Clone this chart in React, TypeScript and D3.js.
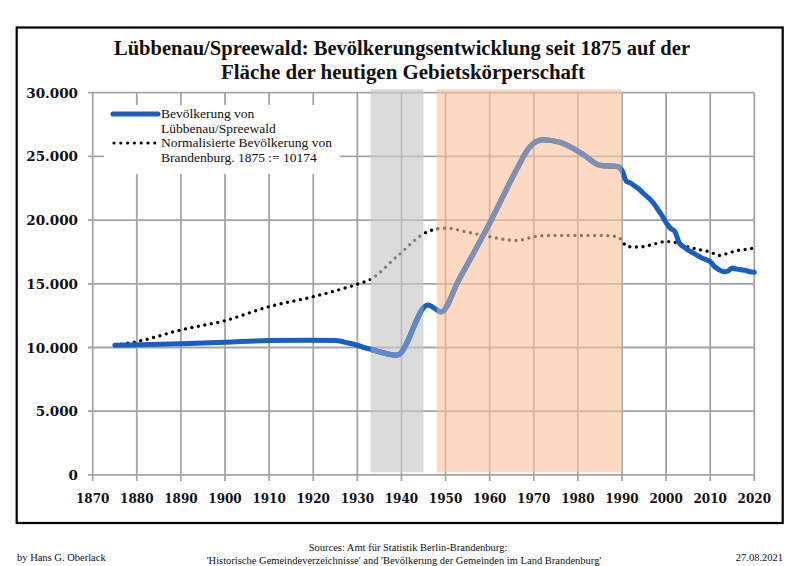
import * as d3 from 'd3';
import React from 'react';

// Lübbenau/Spreewald population
const popYears = [1875, 1890, 1900, 1910, 1919, 1925, 1928, 1933, 1939, 1946, 1949, 1953, 1960, 1966, 1969, 1972, 1976, 1981, 1985, 1989, 1990, 1991, 1992, 1993, 1994, 1995, 1996, 1997, 1998, 1999, 2000, 2001, 2002, 2003, 2004, 2005, 2006, 2007, 2008, 2009, 2010, 2011, 2012, 2013, 2014, 2015, 2016, 2017, 2018, 2019, 2020];
const popValues = [10174, 10300, 10410, 10540, 10560, 10540, 10350, 9860, 9400, 13340, 12800, 15300, 19760, 23900, 25700, 26300, 26100, 25200, 24300, 24200, 23900, 23050, 22900, 22650, 22400, 22050, 21750, 21400, 20900, 20400, 19800, 19350, 19100, 18200, 17900, 17650, 17450, 17250, 17050, 16900, 16750, 16350, 16100, 15950, 16000, 16250, 16150, 16100, 16050, 15950, 15900];

// Brandenburg, normalised so that 1875 = 10174
const bbYears = [1875, 1880, 1890, 1900, 1910, 1920, 1925, 1930, 1933, 1939, 1946, 1950, 1955, 1960, 1964, 1966, 1971, 1975, 1980, 1985, 1989, 1990, 1991, 1992, 1994, 1997, 2000, 2002, 2004, 2006, 2008, 2010, 2012, 2014, 2016, 2018, 2020];
const bbValues = [10174, 10460, 11380, 12110, 13210, 13990, 14450, 14970, 15350, 17150, 19100, 19370, 19050, 18700, 18450, 18400, 18750, 18800, 18800, 18800, 18700, 18400, 17950, 17900, 17880, 18100, 18320, 18250, 18000, 17800, 17650, 17500, 17220, 17400, 17610, 17700, 17800];

const nsPeriod = [1933, 1945];
const gdrPeriod = [1948, 1990];
const xTicks = d3.range(1870, 2021, 10);
const yTicks = [0, 5000, 10000, 15000, 20000, 25000, 30000];

const titleLines = [
  'Lübbenau/Spreewald: Bevölkerungsentwicklung seit 1875 auf der',
  'Fläche der heutigen Gebietskörperschaft',
];
const legendLabels = [
  ['Bevölkerung von', 'Lübbenau/Spreewald'],
  ['Normalisierte Bevölkerung von', 'Brandenburg. 1875 := 10174'],
];

const W = 800, H = 566;
const serif = '"Liberation Serif", "Times New Roman", serif';
const numFont = '"DejaVu Serif", serif';

export default function App() {
  const x = d3.scaleLinear().domain([1870, 2020]).range([92.7, 754.3]);
  const y = d3.scaleLinear().domain([0, 30000]).range([474.9, 92.7]);

  const fmt = (v: number) => (v === 0 ? '0' : d3.format(',')(v).replace(/,/g, '.'));

  const line = d3.line<[number, number]>()
    .x((d) => x(d[0]))
    .y((d) => y(d[1]))
    .curve(d3.curveMonotoneX);

  const popPath = line(popYears.map((yr, i) => [yr, popValues[i]]) as [number, number][]) || '';
  const bbPath = line(bbYears.map((yr, i) => [yr, bbValues[i]]) as [number, number][]) || '';

  const bandTop = y(30280), bandBottom = y(200);
  const gridColor = '#a5a5a5';
  const blue = '#1a5ec2';

  const nsX = x(nsPeriod[0]), nsW = x(nsPeriod[1]) - x(nsPeriod[0]);
  const gdrX = x(gdrPeriod[0]), gdrW = x(gdrPeriod[1]) - x(gdrPeriod[0]);

  return (
    <svg width={W} height={H} style={{ display: 'block', position: 'absolute', left: 0, top: 0 }}>
      <defs>
        <clipPath id="clipNs">
          <rect x={nsX} y={0} width={nsW} height={H} />
        </clipPath>
        <clipPath id="clipGdr">
          <rect x={gdrX} y={0} width={gdrW} height={H} />
        </clipPath>
      </defs>
      <rect x={0} y={0} width={W} height={H} fill="white" />
      <rect x={16.7} y={27.5} width={766} height={495.5} fill="white" stroke="black" strokeWidth={2.2} />

      {/* title */}
      <g fontFamily={serif} fontWeight="bold" fontSize={20.5} textAnchor="middle" fill="#111">
        <text x={402} y={55} textLength={576} lengthAdjust="spacingAndGlyphs">{titleLines[0]}</text>
        <text x={403} y={79} textLength={364} lengthAdjust="spacingAndGlyphs">{titleLines[1]}</text>
      </g>

      {/* grid */}
      <g stroke={gridColor} strokeWidth={1.8}>
        {yTicks.map((t) => (
          <line key={`h${t}`} x1={88} x2={x(2020)} y1={y(t)} y2={y(t)} />
        ))}
        {xTicks.map((t) => (
          <line key={`v${t}`} x1={x(t)} x2={x(t)} y1={y(30000)} y2={y(0) + 6} />
        ))}
      </g>

      {/* legend box hides the grid */}
      <rect x={104} y={105} width={236} height={69} fill="white" />

      {/* normalised Brandenburg series, under the period bands */}
      <path d={bbPath} fill="none" stroke="#000" strokeWidth={3.4} strokeLinecap="round" strokeDasharray="0 6.6" />

      {/* historical periods overlay */}
      <rect x={nsX} y={bandTop} width={nsW} height={bandBottom - bandTop} fill="#c8c8c8" opacity={0.65} />
      <rect x={gdrX} y={bandTop} width={gdrW} height={bandBottom - bandTop} fill="#fac09b" opacity={0.6} />

      {/* Lübbenau series, tinted inside the bands */}
      <path d={popPath} fill="none" stroke={blue} strokeWidth={5} strokeLinejoin="round" strokeLinecap="round" />
      <path d={popPath} fill="none" stroke="#6089c6" strokeWidth={5.4} strokeLinejoin="round" clipPath="url(#clipNs)" />
      <path d={popPath} fill="none" stroke="#8090b0" strokeWidth={5.4} strokeLinejoin="round" clipPath="url(#clipGdr)" />

      {/* y labels */}
      <g fontFamily={numFont} fontWeight="bold" fontSize={13.5} textAnchor="end" fill="#111">
        {yTicks.map((t) => (
          <text key={`yl${t}`} x={78} y={y(t) + 5}>{fmt(t)}</text>
        ))}
      </g>

      {/* x labels */}
      <g fontFamily={numFont} fontWeight="bold" fontSize={12} textAnchor="middle" fill="#111">
        {xTicks.map((t) => (
          <text key={`xl${t}`} x={x(t)} y={503}>{t}</text>
        ))}
      </g>

      {/* legend */}
      <line x1={113} x2={158} y1={114} y2={114} stroke={blue} strokeWidth={5} strokeLinecap="round" />
      <line x1={114} x2={156} y1={143} y2={143} stroke="#000" strokeWidth={3.2} strokeLinecap="round" strokeDasharray="0 6.8" />
      <g fontFamily={serif} fontSize={13.5} fill="#111">
        <text x={161} y={118}>{legendLabels[0][0]}</text>
        <text x={161} y={132.5}>{legendLabels[0][1]}</text>
        <text x={161} y={147}>{legendLabels[1][0]}</text>
        <text x={161} y={161.5}>{legendLabels[1][1]}</text>
      </g>

      {/* footer */}
      <g fontFamily={serif} fontSize={10.5} fill="#111">
        <text x={17} y={561}>by Hans G. Oberlack</text>
        <text x={408} y={551} textAnchor="middle">Sources: Amt für Statistik Berlin-Brandenburg:</text>
        <text x={404} y={564} textAnchor="middle">'Historische Gemeindeverzeichnisse' and 'Bevölkerung der Gemeinden im Land Brandenburg'</text>
        <text x={783} y={561} textAnchor="end">27.08.2021</text>
      </g>
    </svg>
  );
}
